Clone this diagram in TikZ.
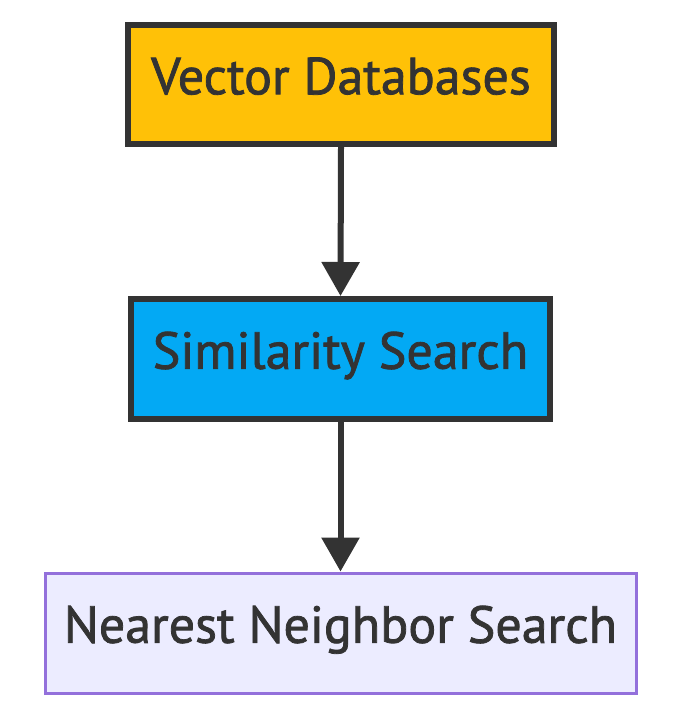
\documentclass[tikz,border=0pt]{standalone}
\usepackage{fontspec}
\newfontfamily\lblfont{PT Sans}[FakeBold=1.5]
\usetikzlibrary{arrows.meta}
\definecolor{txt}{HTML}{333333}
\definecolor{amber}{HTML}{FFC107}
\definecolor{skyb}{HTML}{03A9F4}
\definecolor{lav}{HTML}{ECECFF}
\definecolor{purp}{HTML}{9370DB}
\tikzset{
  lbl/.style={text=txt, inner sep=0pt, text height=36.5pt, text depth=17pt,
    font=\lblfont\fontsize{52}{62}\selectfont},
  box/.style={rectangle, draw=txt, line width=6pt, lbl},
  plain/.style={rectangle, draw=purp, fill=lav, line width=3pt, lbl},
  conn/.style={draw=txt, line width=6pt, -{Triangle[length=34pt,width=37pt]}}
}
\begin{document}
\begin{tikzpicture}[x=1pt,y=-1pt]
\useasboundingbox (0,0) rectangle (682,719);
\node[box, fill=amber, minimum width=426pt, minimum height=119pt] (vdb) at (341,84.5) {Vector Databases};
\node[box, fill=skyb, minimum width=419pt, minimum height=120pt] (sim) at (340.5,359) {Similarity Search};
\node[plain, minimum width=591pt, minimum height=120pt] (nns) at (340.5,633) {Nearest Neighbor Search};
\draw[conn] (vdb.south) -- (sim.north);
\draw[conn] (sim.south) -- (nns.north);
\end{tikzpicture}
\end{document}
